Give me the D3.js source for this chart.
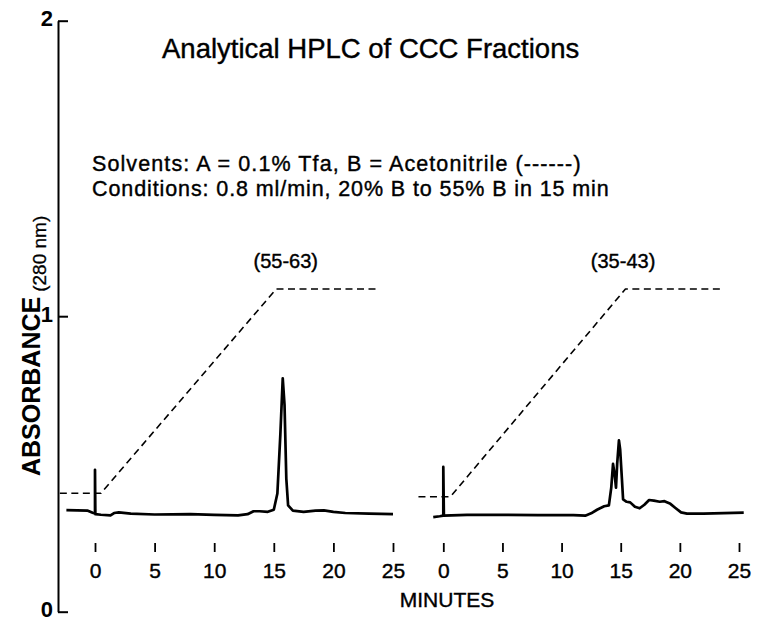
<!DOCTYPE html>
<html>
<head>
<meta charset="utf-8">
<script src="https://cdn.jsdelivr.net/npm/d3@7"></script>
<style>
  html, body { margin: 0; padding: 0; background: #fff; }
  svg { display: block; }
  text { font-family: "Liberation Sans", Arial, Helvetica, sans-serif; fill: #000; }
</style>
</head>
<body>
<svg id="chart" width="757" height="621"></svg>
<script>
// ---------- data ----------
const titleText = "Analytical HPLC of CCC Fractions";
const solventsText = "Solvents: A = 0.1% Tfa, B = Acetonitrile (------)";
const conditionsText = "Conditions: 0.8 ml/min, 20% B to 55% B in 15 min";
const panelLabels = ["(55-63)", "(35-43)"];
const xTicks = [0, 5, 10, 15, 20, 25];
const yTicks = [0, 1, 2];
const yLabelMain = "ABSORBANCE";
const yLabelSub = "(280 nm)";
const xLabel = "MINUTES";

// left chromatogram: fraction (55-63)
const leftTime = [-2.4, -0.6, -0.2, 0.0, 0.0, 0.03, 0.5, 1.3, 1.6, 2.0, 3, 5, 8, 10, 12, 12.8, 13.3, 13.8, 14.5, 15.0, 15.3, 15.55, 15.75, 15.9, 16.05, 16.2, 16.6, 17.5, 18.5, 19.2, 20, 21, 23, 25];
const leftAbs  = [0.344, 0.342, 0.335, 0.332, 0.480, 0.330, 0.328, 0.326, 0.334, 0.336, 0.332, 0.329, 0.330, 0.328, 0.326, 0.330, 0.340, 0.340, 0.338, 0.345, 0.400, 0.600, 0.790, 0.700, 0.450, 0.360, 0.342, 0.338, 0.342, 0.343, 0.338, 0.334, 0.332, 0.330];

// right chromatogram: fraction (35-43)
const rightTime = [-0.85, -0.3, 0.0, 0.0, 0.05, 2, 5, 8, 11, 12.0, 12.5, 13.0, 13.6, 14.0, 14.2, 14.35, 14.5, 14.6, 14.7, 14.85, 14.95, 15.1, 15.2, 15.5, 15.8, 16.2, 16.6, 17.0, 17.4, 17.8, 18.3, 18.7, 19.2, 19.6, 20.1, 20.6, 22, 25.4];
const rightAbs  = [0.320, 0.323, 0.325, 0.490, 0.325, 0.328, 0.328, 0.327, 0.327, 0.325, 0.333, 0.345, 0.357, 0.360, 0.420, 0.500, 0.460, 0.420, 0.500, 0.580, 0.550, 0.450, 0.380, 0.372, 0.370, 0.355, 0.350, 0.362, 0.378, 0.376, 0.372, 0.374, 0.365, 0.352, 0.336, 0.332, 0.332, 0.335];

// gradient (% B) traces drawn as dashed lines, in absorbance units of the plot
const leftGradTime = [-2.95, 0.5, 15.2, 23.6];
const leftGradAbs  = [0.401, 0.401, 1.092, 1.092];
const rightGradTime = [-2.1, 0.6, 15.4, 23.4];
const rightGradAbs  = [0.389, 0.389, 1.092, 1.092];

// ---------- layout ----------
const svg = d3.select("#chart");
const y = d3.scaleLinear().domain([0, 2]).range([611.7, 20.7]);
const xLeft = d3.scaleLinear().domain([0, 25]).range([95, 393]);
const xRight = d3.scaleLinear().domain([0, 25]).range([443.3, 739]);

// y axis
const yAxis = d3.axisLeft(y).tickValues(yTicks).tickFormat(d3.format("d"))
  .tickSizeInner(-10).tickSizeOuter(0).tickPadding(5);
const gy = svg.append("g").attr("transform", "translate(58,0)").call(yAxis);
gy.select(".domain").attr("stroke", "#000").attr("stroke-width", 2);
gy.selectAll(".tick line").attr("stroke", "#000").attr("stroke-width", 2);
gy.selectAll(".tick text").attr("font-size", 22).attr("font-weight", "bold")
  .attr("dy", "0.22em")
  .attr("font-family", "Liberation Sans, Arial, sans-serif").attr("fill", "#000");

// x axes (tick marks + labels only)
function drawX(scale) {
  const ax = d3.axisBottom(scale).tickValues(xTicks).tickSize(9).tickPadding(11);
  const g = svg.append("g").attr("transform", "translate(0,543)").call(ax);
  g.select(".domain").remove();
  g.selectAll(".tick line").attr("stroke", "#000").attr("stroke-width", 1.8);
  g.selectAll(".tick text").attr("font-size", 21)
    .attr("stroke", "#000").attr("stroke-width", 0.4)
    .attr("font-family", "Liberation Sans, Arial, sans-serif").attr("fill", "#000");
}
drawX(xLeft);
drawX(xRight);

// traces
function drawTrace(scale, ts, vs, dashed) {
  const pts = ts.map((t, i) => [t, vs[i]]);
  const line = d3.line().x(d => scale(d[0])).y(d => y(d[1]));
  svg.append("path").datum(pts).attr("d", line)
    .attr("fill", "none").attr("stroke", "#000")
    .attr("stroke-width", dashed ? 1.6 : 2.7)
    .attr("stroke-linejoin", "round")
    .attr("stroke-dasharray", dashed ? "7,4.5" : null);
}
drawTrace(xLeft, leftGradTime, leftGradAbs, true);
drawTrace(xRight, rightGradTime, rightGradAbs, true);
drawTrace(xLeft, leftTime, leftAbs, false);
drawTrace(xRight, rightTime, rightAbs, false);

// texts
function txt(x, yy, size, s, anchor) {
  return svg.append("text").attr("x", x).attr("y", yy).attr("font-size", size)
    .attr("text-anchor", anchor || "start")
    .attr("stroke", "#000").attr("stroke-width", 0.4).text(s);
}
txt(162, 58, 27.5, titleText);
txt(92, 171, 21.5, solventsText).attr("letter-spacing", 1.1);
txt(92, 196, 21.5, conditionsText).attr("letter-spacing", 0.9);
txt(xLeft(16), 268, 20, panelLabels[0], "middle");
txt(xRight(15.2), 268, 20, panelLabels[1], "middle");
txt(447, 607, 21, xLabel, "middle");

const yl = svg.append("text").attr("transform", "translate(40,476) rotate(-90)");
yl.append("tspan").attr("font-size", 25).attr("font-weight", "bold").text(yLabelMain);
yl.append("tspan").attr("font-size", 19).attr("dx", 5).attr("dy", 6)
  .attr("stroke", "#000").attr("stroke-width", 0.3).text(yLabelSub);
</script>
</body>
</html>
